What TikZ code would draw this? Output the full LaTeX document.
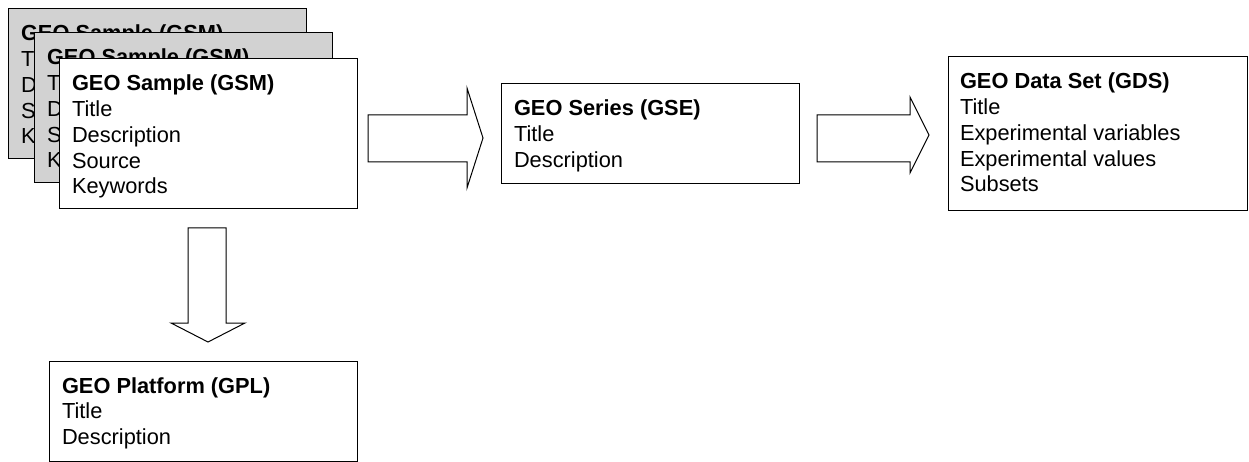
\documentclass[tikz,border=0pt]{standalone}
\usepackage{fontspec}
\setmainfont{Liberation Sans}
\usetikzlibrary{calc}
\newcommand{\boxlines}[1]{\vtop{\baselineskip=25.75pt\lineskip=0pt\lineskiplimit=-100pt #1}}
\begin{document}
\begin{tikzpicture}[x=1pt,y=-1pt,
  card/.style={draw=black,line width=1pt,fill=white,rectangle,anchor=north west,
    minimum width=298pt,minimum height=150pt,inner sep=0pt,outer sep=0pt},
  backcard/.style={card,fill=gray!35},
  cardtext/.style={anchor=base west,inner sep=0pt,outer sep=0pt,
    font=\fontsize{21.8}{25.75}\selectfont},
  blockarrow/.style={draw=black,line width=1pt,fill=white,line join=miter}]
\useasboundingbox (0,0) rectangle (1249,462);

% stacked GSM cards
\node[backcard] (gsmA) at (8,9) {};
\node[cardtext] (gsmAtext) at ($(gsmA.north west)+(13,32)$) {\boxlines{\hbox{\textbf{GEO Sample (GSM)}}\hbox{Title}\hbox{Description}\hbox{Source}\hbox{Keywords}}};
\node[backcard] (gsmB) at (34,33) {};
\node[cardtext] (gsmBtext) at ($(gsmB.north west)+(13,32)$) {\boxlines{\hbox{\textbf{GEO Sample (GSM)}}\hbox{Title}\hbox{Description}\hbox{Source}\hbox{Keywords}}};
\node[card] (gsm) at (59,59) {};
\node[cardtext] (gsmtext) at ($(gsm.north west)+(13,32)$) {\boxlines{\hbox{\textbf{GEO Sample (GSM)}}\hbox{Title}\hbox{Description}\hbox{Source}\hbox{Keywords}}};

% GSE
\node[card,minimum width=298pt,minimum height=100pt] (gse) at (501,84) {};
\node[cardtext] (gsetext) at ($(gse.north west)+(13,32)$) {\boxlines{\hbox{\textbf{GEO Series (GSE)}}\hbox{Title}\hbox{Description}}};

% GDS
\node[card,minimum width=299pt,minimum height=154pt] (gds) at (948,57) {};
\node[cardtext] (gdstext) at ($(gds.north west)+(12,32)$) {\boxlines{\hbox{\textbf{GEO Data Set (GDS)}}\hbox{Title}\hbox{Experimental variables}\hbox{Experimental values}\hbox{Subsets}}};

% GPL
\node[card,minimum width=308pt,minimum height=100pt] (gpl) at (49,361) {};
\node[cardtext] (gpltext) at ($(gpl.north west)+(13,32)$) {\boxlines{\hbox{\textbf{GEO Platform (GPL)}}\hbox{Title}\hbox{Description}}};

% block arrows
\draw[blockarrow] (368,115) -- (467,115) -- (467,88) -- (483,138) -- (467,188) -- (467,162) -- (368,162) -- cycle;
\draw[blockarrow] (817,115) -- (910,115) -- (910,97) -- (929,135) -- (910,173) -- (910,162) -- (817,162) -- cycle;
\draw[blockarrow] (188,228) -- (226,228) -- (226,323) -- (245,323) -- (208,342) -- (171,323) -- (188,323) -- cycle;
\end{tikzpicture}
\end{document}
